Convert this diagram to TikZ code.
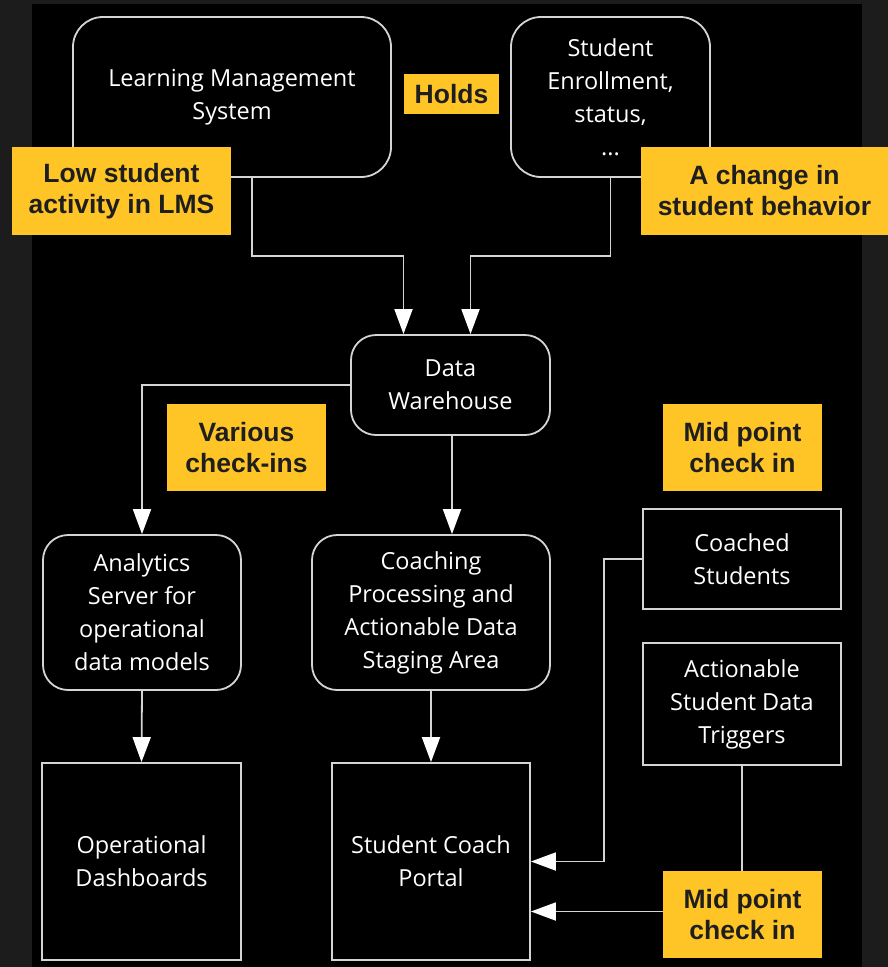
\documentclass[tikz,border=0pt]{standalone}
\usepackage{fontspec}
\setmainfont{Open Sans}
\newfontfamily\labfont{Liberation Sans}
\usetikzlibrary{arrows.meta}
\definecolor{outerbg}{HTML}{1C1C1C}
\definecolor{ln}{HTML}{D4D4D4}
\definecolor{tagfill}{HTML}{FFC527}
\definecolor{tagtext}{HTML}{1E1E1E}
\begin{document}
\begin{tikzpicture}[x=1pt,y=-1pt,
  box/.style={draw=ln, line width=1.8pt, fill=black, text=white,
    font=\fontsize{23.5}{33}\selectfont, align=center, inner sep=0pt},
  rbox/.style={box, rounded corners=#1},
  conn/.style={draw=ln, line width=1.8pt,
    -{Triangle[width=18pt,length=25pt,fill=white,color=white]}},
  tag/.style={fill=tagfill, text=tagtext, inner sep=0pt, align=center,
    font=\labfont\bfseries\fontsize{26.5}{31}\selectfont}]
\fill[outerbg] (0,0) rectangle (888,967);
\fill[black] (32,4) rectangle (862,967);
\useasboundingbox (0,0) rectangle (888,967);

% boxes
\node[rbox=30pt, minimum width=318pt, minimum height=160pt] (lms) at (232,97) {Learning Management\\System};
\node[rbox=30pt, minimum width=199pt, minimum height=160pt] (stu) at (610.5,97) {Student\\Enrollment,\\status,\\...};
\node[rbox=25pt, minimum width=199pt, minimum height=100pt] (dw) at (450.5,385) {Data\\Warehouse};
\node[rbox=25pt, minimum width=198pt, minimum height=155pt] (ana) at (142,612.5) {Analytics\\Server for\\operational\\data models};
\node[rbox=25pt, minimum width=238pt, minimum height=155pt] (coach) at (431,612.5) {Coaching\\Processing and\\Actionable Data\\Staging Area};
\node[box, minimum width=198pt, minimum height=100pt] (cs) at (742,559) {Coached\\Students};
\node[box, minimum width=198pt, minimum height=122pt] (trig) at (742,704) {Actionable\\Student Data\\Triggers};
\node[box, minimum width=199pt, minimum height=197pt] (dash) at (141.5,861.5) {Operational\\Dashboards};
\node[box, minimum width=198pt, minimum height=197pt] (portal) at (431,861.5) {Student Coach\\Portal};

% connectors
\draw[conn] ([xshift=20pt]lms.south) -- ++(0,78) -| ([xshift=-47pt]dw.north);
\draw[conn] (stu.south) -- ++(0,78) -| ([xshift=20pt]dw.north);
\draw[conn] (dw.west) -| (ana.north);
\draw[conn] ([xshift=1.5pt]dw.south) -- ([xshift=1.5pt]dw.south |- coach.north);
\draw[conn] (coach.south) -- (portal.north);
\draw[conn] (ana.south) -- (dash.north);
\draw[conn] (cs.west) -- ++(-38,0) |- (portal.east);
\draw[conn] (trig.south) |- ([yshift=-50pt]portal.east);

% labels
\node[tag, minimum width=95pt, minimum height=40pt] (holds) at (451.5,94) {Holds};
\node[tag, minimum width=219pt, minimum height=88pt] (low) at (121.5,191) {Low student\\activity in LMS};
\node[tag, minimum width=247pt, minimum height=88pt] (chg) at (764.5,191) {A change in\\student behavior};
\node[tag, minimum width=159pt, minimum height=87pt] (various) at (246.5,447.5) {Various\\check-ins};
\node[tag, minimum width=159pt, minimum height=87pt] (mid1) at (742.5,447.5) {Mid point\\check in};
\node[tag, minimum width=159pt, minimum height=87pt] (mid2) at (742.5,914.5) {Mid point\\check in};
\end{tikzpicture}
\end{document}
